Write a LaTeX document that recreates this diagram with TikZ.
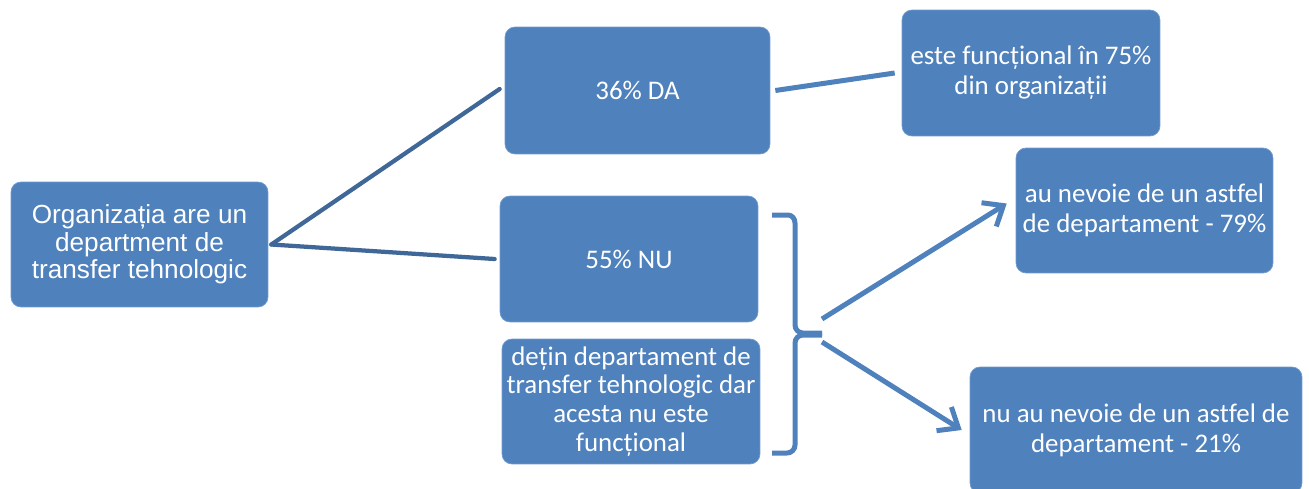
\documentclass[tikz,border=0pt]{standalone}
\usepackage{fontspec}
\setmainfont{Carlito}[Ligatures=NoCommon]
\newfontfamily\arialfont{Liberation Sans}
\usetikzlibrary{arrows.meta}

\definecolor{boxblue}{HTML}{4F81BD}
\definecolor{boxedge}{HTML}{6F9AD0}
\definecolor{linedark}{HTML}{3F6797}

\newcommand*{\pageW}{1309}
\newcommand*{\pageH}{488}

\tikzset{
  box/.style={draw=boxedge, fill=boxblue, rounded corners=0.2cm, text=white,
    align=center, inner sep=0pt, font=\fontsize{15.3}{17}\selectfont},
  darklink/.style={draw=linedark, line width=0.085cm, line cap=round},
  lightlink/.style={draw=boxblue, line width=0.1cm},
}

\begin{document}
\begin{tikzpicture}[x=0.02cm, y=-0.02cm]
    \useasboundingbox (0,0) rectangle (\pageW,\pageH);

    % boxes
    \node[box, minimum width=5.14cm, minimum height=2.5cm,
          font=\arialfont\fontsize{14.9}{15.6}\selectfont]
        (org) at (139.5,244.5) {Organizația are un\\department de\\transfer tehnologic};
    \node[box, minimum width=5.3cm, minimum height=2.54cm] (da) at (637.5,90.5) {36\% DA};
    \node[box, minimum width=5.16cm, minimum height=2.52cm] (func) at (1031,73)
        {este funcțional în 75\%\\din organizații};
    \node[box, minimum width=5.16cm, minimum height=2.52cm] (nu) at (629,259) {55\% NU};
    \node[box, minimum width=5.16cm, minimum height=2.5cm,
          font=\fontsize{15.3}{16.4}\selectfont] (detin) at (631,401.5)
        {dețin departament de\\transfer tehnologic dar\\acesta nu este\\funcțional};
    \node[box, minimum width=5.14cm, minimum height=2.5cm] (nevoie) at (1144.5,210.5)
        {au nevoie de un astfel\\de departament - 79\%};
    \node[box, minimum width=6.64cm, minimum height=2.52cm] (nunevoie) at (1136,430)
        {nu au nevoie de un astfel de\\departament - 21\%};

    % lines
    \draw[darklink] ([xshift=0.06cm]org.east) -- ([xshift=-0.1cm,yshift=0.03cm]da.west);
    \draw[darklink] ([xshift=0.06cm]org.east) -- ([xshift=-0.1cm]nu.west);
    \draw[lightlink] ([xshift=0.1cm]da.east) -- ([xshift=-0.14cm]func.west);

    % brace
    \draw[lightlink, line join=round]
        (772,215) -- (788,215) to[out=0,in=90] (795,223) -- (795,325)
        to[out=-90,in=180] (803,333) -- (822,333);
    \draw[lightlink, line join=round]
        (822,335) -- (803,335) to[out=180,in=90] (795,343) -- (795,445)
        to[out=-90,in=0] (787,453) -- (772,453);

    % arrows
    \coordinate (up) at (822,319);
    \coordinate (down) at (822,342);
    \draw[lightlink, -{Straight Barb[length=0.34cm, width=0.56cm]}]
        (up) -- ([xshift=-0.18cm,yshift=0.14cm]nevoie.west);
    \draw[lightlink, -{Straight Barb[length=0.34cm, width=0.56cm]}]
        (down) -- ([xshift=-0.16cm]nunevoie.west);
\end{tikzpicture}
\end{document}
